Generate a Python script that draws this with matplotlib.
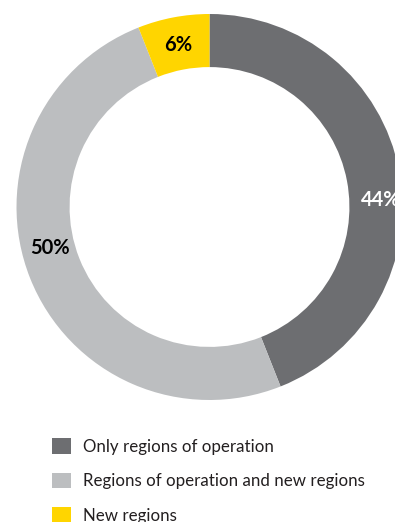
import matplotlib
matplotlib.use('Agg')
import matplotlib.pyplot as plt
from matplotlib.patches import Patch

# data
categories = ['Only regions of operation',
              'Regions of operation and new regions',
              'New regions']
shares = [44, 50, 6]

# styles / layout
colors = ['#6d6e71', '#bcbec0', '#ffd500']
label_colors = ['white', 'black', 'black']
label_xy = [(0.885, 0.036), (-0.826, -0.212), (-0.163, 0.839)]
ring_width = 0.275

fig = plt.figure(figsize=(3.95, 5.22), dpi=100)
ax = fig.add_axes([16.5 / 395, 122 / 522, 386 / 395, 386 / 522])

wedges, _ = ax.pie(shares, colors=colors, startangle=90, counterclock=False,
                   radius=1.0, wedgeprops=dict(width=ring_width, linewidth=0))
ax.set_xlim(-1, 1)
ax.set_ylim(-1, 1)
ax.set_aspect('equal')
ax.axis('off')

for v, (x, y), c in zip(shares, label_xy, label_colors):
    ax.text(x, y, f'{v}%', ha='center', va='center', color=c,
            fontsize=14.5, fontweight='bold', family=['Lato', 'DejaVu Sans'],
            clip_on=False)

handles = [Patch(facecolor=c, edgecolor='none') for c in colors]
fig.legend(handles, categories, loc='upper left',
           bbox_to_anchor=(52 / 395, 1 - 438 / 522), frameon=False,
           prop={'family': ['Lato', 'DejaVu Sans'], 'size': 12.2},
           labelcolor='#231f20', borderpad=0, borderaxespad=0,
           handlelength=1.12, handleheight=1.06, handletextpad=0.71,
           labelspacing=1.06)

fig.savefig('out.png', dpi=100)
